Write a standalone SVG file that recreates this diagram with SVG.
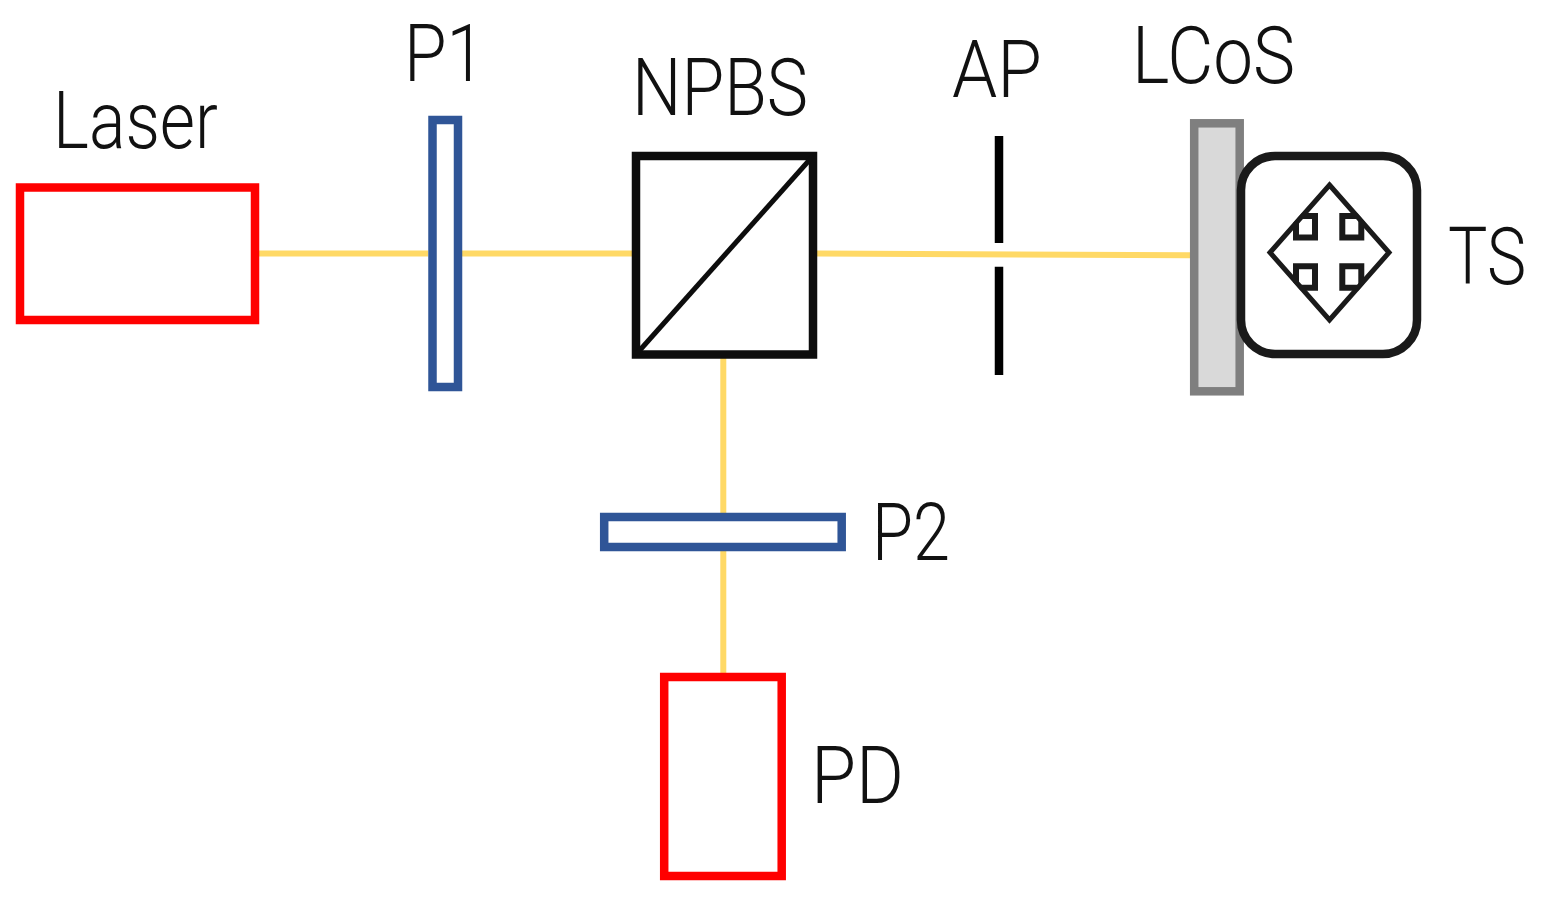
<svg xmlns="http://www.w3.org/2000/svg" width="1544" height="900" viewBox="0 0 1544 900">
<style>
.beam{stroke:#FFD966;stroke-width:6;fill:none}
.red{fill:#fff;stroke:#FF0000;stroke-width:8.5}
.blue{fill:#fff;stroke:#2F5597;stroke-width:8.5}
.blk{fill:#fff;stroke:#0d0d0d;stroke-width:8.5}
.ts{fill:none;stroke:#1a1a1a}
text{font-family:"Roboto","Noto Sans",sans-serif;font-weight:300;font-size:80px;fill:#111}
</style>
<defs><clipPath id="dia"><path d="M1329.5 182L1392 252.5L1329.5 323L1267 252.5Z"/></clipPath></defs>
<rect width="1544" height="900" fill="#fff"/>
<g id="connectors">
<path class="beam" d="M259 253.5H428M462 253.5H632"/>
<path class="beam" d="M817 253.5L1190 255.3"/>
<path class="beam" d="M723.3 358V513M723.3 551V673"/>
</g>
<g id="laser"><rect class="red" x="20" y="187.5" width="235" height="132.5"/><text x="53" y="148" textLength="165" lengthAdjust="spacingAndGlyphs">Laser</text></g>
<g id="p1"><rect class="blue" x="432.5" y="120" width="25.5" height="267"/><text x="404" y="80.5" textLength="81" lengthAdjust="spacingAndGlyphs">P1</text></g>
<g id="npbs"><rect class="blk" x="636" y="156" width="177" height="198.5"/><line x1="636" y1="354.5" x2="813" y2="156" stroke="#0d0d0d" stroke-width="5"/><text x="632" y="115" textLength="176" lengthAdjust="spacingAndGlyphs">NPBS</text></g>
<g id="ap"><path d="M999 136V243M999 266.7V375" stroke="#000" stroke-width="8.5" fill="none"/><text x="952" y="96.5" textLength="90" lengthAdjust="spacingAndGlyphs">AP</text></g>
<g id="lcos"><rect x="1194.2" y="123.3" width="45.5" height="268" fill="#D9D9D9" stroke="#7F7F7F" stroke-width="8.5"/><text x="1132" y="83" textLength="163" lengthAdjust="spacingAndGlyphs">LCoS</text></g>
<g id="ts"><rect class="ts" x="1241" y="156" width="176" height="198" rx="34" stroke-width="8.5" fill="#fff"/>
<path class="ts" stroke-width="5" d="M1329.5 185L1389 252.5L1329.5 320L1270 252.5Z"/>
<path class="ts" stroke-width="6" clip-path="url(#dia)" d="M1296 216H1315V237.5H1296ZM1342.3 216H1361.3V237.5H1342.3ZM1296 266.3H1315V287.7H1296ZM1342.3 266.3H1361.3V287.7H1342.3Z"/>
<text x="1448" y="284" textLength="78" lengthAdjust="spacingAndGlyphs">TS</text></g>
<g id="p2"><rect class="blue" x="604.2" y="517" width="237.5" height="30"/><text x="872" y="560" textLength="78" lengthAdjust="spacingAndGlyphs">P2</text></g>
<g id="pd"><rect class="red" x="664.2" y="677" width="117.5" height="199"/><text x="811" y="803" textLength="93" lengthAdjust="spacingAndGlyphs">PD</text></g>
</svg>
